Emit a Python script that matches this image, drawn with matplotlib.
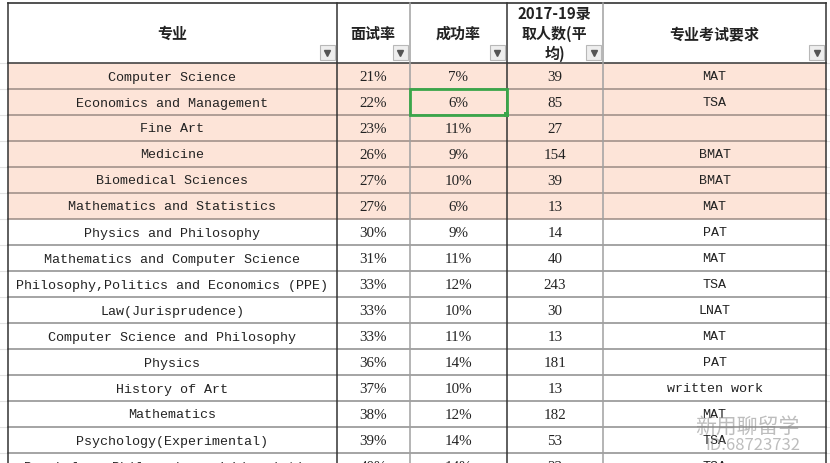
import matplotlib.pyplot as plt
from matplotlib.patches import Rectangle

plt.rcParams['font.family'] = ['Noto Sans CJK SC', 'DejaVu Sans']

headers = ['专业', '面试率', '成功率', '2017-19录\n取人数(平\n均)', '专业考试要求']
majors = ['Computer Science', 'Economics and Management', 'Fine Art', 'Medicine',
          'Biomedical Sciences', 'Mathematics and Statistics', 'Physics and Philosophy',
          'Mathematics and Computer Science', 'Philosophy,Politics and Economics (PPE)',
          'Law(Jurisprudence)', 'Computer Science and Philosophy', 'Physics',
          'History of Art', 'Mathematics', 'Psychology(Experimental)',
          'Psychology,Philosophy and Linguistics']
interview_rate = ['21%', '22%', '23%', '26%', '27%', '27%', '30%', '31%', '33%', '33%',
                  '33%', '36%', '37%', '38%', '39%', '40%']
success_rate = ['7%', '6%', '11%', '9%', '10%', '6%', '9%', '11%', '12%', '10%',
                '11%', '14%', '10%', '12%', '14%', '14%']
admitted = ['39', '85', '27', '154', '39', '13', '14', '40', '243', '30',
            '13', '181', '13', '182', '53', '23']
exam = ['MAT', 'TSA', '', 'BMAT', 'BMAT', 'MAT', 'PAT', 'MAT', 'TSA', 'LNAT',
        'MAT', 'PAT', 'written work', 'MAT', 'TSA', 'TSA']
highlighted = 6

col_edges = [7.5, 336.5, 409.5, 506.5, 603, 826]
col_line_colors = ['#333333', '#333333', '#a0a0a0', '#333333', '#a0a0a0', '#333333']
header_top, header_bottom = 2.5, 62.5
row_h = 26.0

fig = plt.figure(figsize=(8.30, 4.63), dpi=100)
ax = fig.add_axes([0, 0, 1, 1])
ax.set_xlim(0, 830)
ax.set_ylim(463, 0)
ax.axis('off')

# faint spreadsheet grid outside the table
for i in range(len(majors) + 1):
    y = header_bottom + i * row_h
    ax.plot([0, 7.5], [y, y], color='#e2e2e2', lw=0.8)
    ax.plot([826, 830], [y, y], color='#e2e2e2', lw=0.8)

# row fills
for i in range(len(majors)):
    top = header_bottom + i * row_h
    color = '#fde4d8' if i < highlighted else 'white'
    ax.add_patch(Rectangle((col_edges[0], top), col_edges[-1] - col_edges[0], row_h,
                           facecolor=color, edgecolor='none', zorder=0))

# horizontal lines
ax.plot([col_edges[0], col_edges[-1]], [header_top, header_top], color='#333333', lw=1.2)
ax.plot([col_edges[0], col_edges[-1]], [header_bottom, header_bottom], color='#444444', lw=1.2)
for i in range(1, len(majors) + 1):
    y = header_bottom + i * row_h
    c = '#9a8a84' if i <= highlighted else '#8c8c8c'
    ax.plot([col_edges[0], col_edges[-1]], [y, y], color=c, lw=1.1)

# vertical lines
for x, c in zip(col_edges, col_line_colors):
    ax.plot([x, x], [header_top, 463], color=c, lw=1.1)

# header
for j, h in enumerate(headers):
    cx = (col_edges[j] + col_edges[j + 1]) / 2
    ax.text(cx, 34, h, ha='center', va='center', fontsize=10.8, fontweight='bold',
            color='#222222', linespacing=1.3)
    # filter dropdown button
    bx = col_edges[j + 1] - 17
    ax.add_patch(Rectangle((bx, 45), 15, 15, facecolor='#eeeeee', edgecolor='#b8b8b8',
                           lw=0.8, zorder=3))
    ax.plot(bx + 7.5, 53, marker='v', ms=4, color='#555555', zorder=4)

# body
columns = [majors, interview_rate, success_rate, admitted, exam]
for i in range(len(majors)):
    cy = header_bottom + i * row_h + row_h / 2 + 2
    for j, col in enumerate(columns):
        cx = (col_edges[j] + col_edges[j + 1]) / 2
        if j in (0, 4):
            fam = ['Liberation Mono', 'DejaVu Sans Mono']
            fs = 9.6
        else:
            fam = ['Liberation Serif', 'DejaVu Serif']
            fs = 10.8
        ax.text(cx, cy, col[i], ha='center', va='center', fontsize=fs,
                family=fam, color='#222222')

# selected cell
sel_top = header_bottom + row_h
ax.add_patch(Rectangle((col_edges[2], sel_top), col_edges[3] - col_edges[2], row_h,
                       facecolor='none', edgecolor='#3aa64a', lw=2, zorder=5))
ax.add_patch(Rectangle((col_edges[3] - 2.5, sel_top + row_h - 2.5), 5, 5,
                       facecolor='#3aa64a', edgecolor='none', zorder=6))

# watermark
ax.text(695, 427, '新用聊留学', fontsize=15, color='#888888', alpha=0.55, va='center')
ax.text(705, 445, 'ID:68723732', fontsize=12, color='#888888', alpha=0.55, va='center')

fig.savefig('out.png', dpi=100)
